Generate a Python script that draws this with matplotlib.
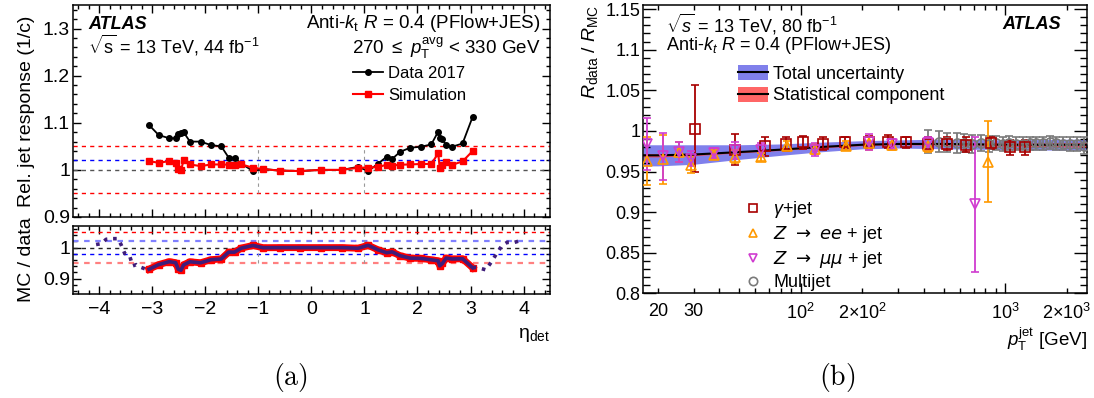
import numpy as np
import matplotlib
matplotlib.use("Agg")
import matplotlib.pyplot as plt
from matplotlib.lines import Line2D
from matplotlib.patches import Patch
from matplotlib.ticker import MultipleLocator, FixedLocator, FuncFormatter, NullFormatter

plt.rcParams['font.family'] = ['Liberation Sans', 'DejaVu Sans']
plt.rcParams['mathtext.fontset'] = 'custom'
plt.rcParams['mathtext.rm'] = 'Liberation Sans'
plt.rcParams['mathtext.it'] = 'Liberation Sans:italic'
plt.rcParams['mathtext.bf'] = 'Liberation Sans:bold'
plt.rcParams['mathtext.sf'] = 'Liberation Sans'
plt.rcParams['axes.unicode_minus'] = True

# ---------------- (a) eta intercalibration, 270 <= pT avg < 330 GeV ----------------
eta = [-3.06, -2.88, -2.68, -2.56, -2.51, -2.46, -2.41, -2.29, -2.09, -1.89, -1.70,
       -1.56, -1.45, -1.32, -1.10, -0.91, -0.60, -0.21, 0.18, 0.58, 0.88, 1.07,
       1.26, 1.42, 1.52, 1.67, 1.86, 2.06, 2.26, 2.39, 2.42, 2.47, 2.54, 2.65,
       2.85, 3.04]
resp_data = [1.095, 1.074, 1.067, 1.067, 1.076, 1.078, 1.080, 1.060, 1.060, 1.0525,
             1.050, 1.026, 1.026, 1.013, 0.9975, 1.002, 0.9985, 0.9975, 1.000, 1.000,
             1.0065, 0.9975, 1.0135, 1.028, 1.023, 1.038, 1.047, 1.049, 1.054, 1.081,
             1.068, 1.065, 1.0525, 1.049, 1.056, 1.1125]
resp_sim = [1.0186, 1.015, 1.0186, 1.015, 1.001, 0.999, 1.020, 1.0115, 1.008, 1.0115,
            1.0115, 1.011, 1.011, 1.0115, 1.0045, 1.0017, 0.9985, 0.9975, 1.000, 1.000,
            1.0045, 1.005, 1.006, 1.011, 1.009, 1.011, 1.0115, 1.0125, 1.0125, 1.035,
            1.005, 1.0105, 1.017, 1.0105, 1.018, 1.040]

# forward extension of the calibration curve
eta_fwd_neg = [-4.06, -3.96, -3.87, -3.74, -3.65, -3.59, -3.52, -3.43, -3.37, -3.30,
               -3.24, -3.10, -3.06]
calib_fwd_neg = [1.010, 1.013, 1.027, 1.029, 1.029, 1.010, 0.981, 0.975, 0.941, 0.945,
                 0.938, 0.929, 0.929]
eta_fwd_pos = [3.04, 3.09, 3.19, 3.29, 3.39, 3.49, 3.59, 3.69, 3.83, 4.00]
calib_fwd_pos = [0.935, 0.936, 0.933, 0.928, 0.953, 0.980, 1.006, 1.017, 1.017, 1.026]

# ---------------- (b) combined in-situ calibration ----------------
pt_curve = [17, 20, 30, 50, 80, 120, 200, 300, 500, 1000, 2500]
resp_curve = [0.970, 0.970, 0.971, 0.974, 0.977, 0.980, 0.983, 0.984, 0.984, 0.983, 0.983]
unc_total = [0.013, 0.013, 0.012, 0.009, 0.007, 0.006, 0.005, 0.005, 0.006, 0.006, 0.007]
unc_stat = [0.002, 0.002, 0.0015, 0.001, 0.001, 0.001, 0.001, 0.001, 0.0015, 0.002, 0.003]

pt_gjet = [30.3, 48, 67, 85, 103, 128, 165, 215, 266, 326, 419, 520, 641, 850, 1055, 1251]
val_gjet = [1.003, 0.977, 0.981, 0.984, 0.986, 0.984, 0.986, 0.986, 0.987, 0.986, 0.984,
            0.984, 0.983, 0.985, 0.980, 0.980]
err_gjet = [0.053, 0.019, 0.012, 0.009, 0.008, 0.008, 0.007, 0.008, 0.008, 0.007, 0.009,
            0.008, 0.009, 0.007, 0.009, 0.009]

pt_zee = [17.8, 21.2, 25.5, 29.1, 37.7, 47.5, 64, 86, 117, 167, 215, 280, 419, 823]
val_zee = [0.963, 0.965, 0.974, 0.958, 0.971, 0.968, 0.968, 0.982, 0.978, 0.982, 0.985,
           0.983, 0.982, 0.962]
err_zee = [0.030, 0.030, 0.012, 0.010, 0.006, 0.008, 0.005, 0.006, 0.006, 0.006, 0.008,
           0.007, 0.008, 0.050]

pt_zmm = [17.8, 21.2, 25.5, 29.1, 37.7, 47.5, 64, 117, 215, 280, 419, 708]
val_zmm = [0.984, 0.969, 0.974, 0.966, 0.973, 0.976, 0.977, 0.977, 0.986, 0.984, 0.985, 0.910]
err_zmm = [0.032, 0.029, 0.012, 0.009, 0.006, 0.010, 0.008, 0.008, 0.010, 0.006, 0.008, 0.083]

pt_mj = [419, 473, 520, 583, 629, 691, 759, 835, 900, 971, 1048, 1129, 1218, 1315, 1417,
         1529, 1650, 1778, 1918, 2069, 2230, 2434]
val_mj = [0.987, 0.987, 0.986, 0.985, 0.985, 0.984, 0.985, 0.984, 0.985, 0.984, 0.985,
          0.984, 0.984, 0.985, 0.985, 0.985, 0.986, 0.985, 0.984, 0.984, 0.984, 0.982]
err_mj = [0.014, 0.013, 0.012, 0.012, 0.011, 0.011, 0.010, 0.010, 0.009, 0.009, 0.009,
          0.008, 0.008, 0.008, 0.008, 0.008, 0.008, 0.008, 0.008, 0.009, 0.009, 0.010]

xticks_r_major = [100, 1000]
xticks_r_minor_labels = {20: '20', 30: '30', 200: r'$2{\times}10^{2}$', 2000: r'$2{\times}10^{3}$'}


def fmt_num(v, pos):
    return f'{round(v, 4):g}'.replace('-', '\u2212')


def frame(ax, maj, mnr, labelsize):
    ax.tick_params(which='both', direction='in', top=True, right=True, width=1.0,
                   labelsize=labelsize)
    ax.tick_params(which='major', length=maj)
    ax.tick_params(which='minor', length=mnr)
    for s in ax.spines.values():
        s.set_linewidth(1.1)


fig = plt.figure(figsize=(10.94, 3.98), dpi=100)
ax_top = fig.add_axes([0.0665, 0.4548, 0.4363, 0.5327])
ax_bot = fig.add_axes([0.0665, 0.2613, 0.4363, 0.1709])
ax_r = fig.add_axes([0.5880, 0.2626, 0.4053, 0.7249])

DASH = (0, (3, 3))

# ---- upper left: relative response ----
ax_top.axhline(1.05, color='#ff0000', ls=DASH, lw=1.0)
ax_top.axhline(1.02, color='#0000ff', ls=DASH, lw=1.0)
ax_top.axhline(1.00, color='#555555', ls=DASH, lw=1.0)
ax_top.axhline(0.95, color='#ff0000', ls=DASH, lw=1.0)
ax_top.vlines([-1, 1], 0.95, 1.05, colors='#999999', linestyles=DASH, lw=0.8)
ax_top.plot(eta, resp_data, '-o', color='black', ms=4, lw=1.3, label='Data 2017')
ax_top.plot(eta, resp_sim, '-s', color='#ff0000', ms=4.5, lw=1.5, label='Simulation')
ax_top.set_xlim(-4.5, 4.5)
ax_top.set_ylim(0.9, 1.35)
ax_top.xaxis.set_major_locator(MultipleLocator(1))
ax_top.xaxis.set_minor_locator(MultipleLocator(0.2))
ax_top.yaxis.set_major_locator(MultipleLocator(0.1))
ax_top.yaxis.set_minor_locator(MultipleLocator(0.02))
ax_top.yaxis.set_major_formatter(FuncFormatter(fmt_num))
ax_top.xaxis.set_major_formatter(NullFormatter())
frame(ax_top, 6, 3, 14)
ax_top.tick_params(axis='y', pad=2)
ax_top.set_ylabel('Rel. jet response (1/c)', fontsize=14, labelpad=6)

ax_top.text(0.033, 0.885, 'ATLAS', transform=ax_top.transAxes, fontsize=13,
            fontweight='bold', fontstyle='italic', ha='left', va='baseline')
ax_top.text(0.031, 0.769, r'$\sqrt{\mathrm{s}}$ = 13 TeV, 44 fb$^{\mathrm{-1}}$',
            transform=ax_top.transAxes, fontsize=13, ha='left', va='baseline')
ax_top.text(0.979, 0.890, r'Anti-$k_{\mathrm{t}}$ $R$ = 0.4 (PFlow+JES)',
            transform=ax_top.transAxes, fontsize=13.5, ha='right', va='baseline')
ax_top.text(0.979, 0.769, r'270 $\leq$ $p_{\mathrm{T}}^{\mathrm{avg}}$ < 330 GeV',
            transform=ax_top.transAxes, fontsize=13.5, ha='right', va='baseline')
ax_top.legend(loc='upper left', bbox_to_anchor=(0.588, 0.714), frameon=False,
              fontsize=12, handlelength=1.8, handletextpad=0.3, labelspacing=0.45,
              borderpad=0, borderaxespad=0)

# ---- lower left: MC / data ----
ratio = np.array(resp_sim) / np.array(resp_data)
ax_bot.axhline(1.05, color='#ff0000', ls=DASH, lw=1.0)
ax_bot.axhline(1.02, color='#8080ff', ls=(0, (2.5, 2.5)), lw=1.6)
ax_bot.axhline(1.00, color='#222222', ls=DASH, lw=1.0)
ax_bot.axhline(0.98, color='#0000ff', ls=DASH, lw=1.0)
ax_bot.axhline(0.95, color='#ff8080', ls=(0, (2.5, 2.5)), lw=1.6)
ax_bot.vlines([-1, 1], 0.95, 1.07, colors='#999999', linestyles=DASH, lw=0.8)
ax_bot.plot(eta, ratio, '-s', color='#ff0000', lw=5, ms=5)
ax_bot.plot(eta, ratio, '-', color='#3f1d7a', lw=2.6)
ax_bot.plot(eta_fwd_neg, calib_fwd_neg, ls=(0, (1, 1.6)), color='#3f1d7a', lw=2.6)
ax_bot.plot(eta_fwd_pos, calib_fwd_pos, ls=(0, (1, 1.6)), color='#3f1d7a', lw=2.6)
ax_bot.set_xlim(-4.5, 4.5)
ax_bot.set_ylim(0.85, 1.07)
ax_bot.xaxis.set_major_locator(MultipleLocator(1))
ax_bot.xaxis.set_minor_locator(MultipleLocator(0.2))
ax_bot.yaxis.set_major_locator(MultipleLocator(0.1))
ax_bot.yaxis.set_minor_locator(MultipleLocator(0.02))
ax_bot.yaxis.set_major_formatter(FuncFormatter(fmt_num))
ax_bot.xaxis.set_major_formatter(FuncFormatter(fmt_num))
frame(ax_bot, 6, 3, 14)
ax_bot.tick_params(axis='y', pad=2)
ax_bot.tick_params(axis='x', pad=5)
ax_bot.set_ylabel('MC / data', fontsize=14, labelpad=6)
ax_bot.set_xlabel('\u03b7$_{\\mathrm{det}}$', fontsize=14, loc='right', labelpad=6)

# ---- right: data / MC response ----
pc = np.array(pt_curve)
rc = np.array(resp_curve)
tot = np.array(unc_total)
st = np.array(unc_stat)
BLUE = '#6a6ae8'
RED = '#ff4040'
ax_r.fill_between(pc, rc - tot, rc + tot, color=BLUE, alpha=0.85, lw=0, zorder=1)
ax_r.fill_between(pc, rc - st, rc + st, color=RED, alpha=0.8, lw=0, zorder=2)
ax_r.plot(pc, rc, color='black', lw=1.5, zorder=3)

LAB_G = r'$\gamma$+jet'
LAB_EE = r'$Z\ \rightarrow\ ee$ + jet'
LAB_MM = r'$Z\ \rightarrow\ \mu\mu$ + jet'
series = [
    (pt_mj, val_mj, err_mj, 'o', '#7a7a7a', 'Multijet'),
    (pt_gjet, val_gjet, err_gjet, 's', '#a80000', LAB_G),
    (pt_zee, val_zee, err_zee, '^', '#ff9900', LAB_EE),
    (pt_zmm, val_zmm, err_zmm, 'v', '#d03cd0', LAB_MM),
]
handles = {}
for x, y, e, m, c, lab in series:
    ax_r.errorbar(x, y, yerr=e, fmt=m, color=c, mfc='none', mec=c, ms=6.5,
                  mew=1.2, elinewidth=1.3, capsize=3, capthick=1.3, zorder=4)
    handles[lab] = Line2D([], [], ls='none', marker=m, mfc='none', mec=c, ms=6, mew=1.2)

ax_r.set_xscale('log')
ax_r.set_xlim(17, 2500)
ax_r.set_ylim(0.8, 1.155)
ax_r.yaxis.set_major_locator(MultipleLocator(0.05))
ax_r.yaxis.set_minor_locator(MultipleLocator(0.01))
ax_r.yaxis.set_major_formatter(FuncFormatter(fmt_num))
minor_x = [v * d for d in (10, 100, 1000) for v in range(2, 10) if 17 <= v * d <= 2500]
ax_r.xaxis.set_major_locator(FixedLocator(xticks_r_major))
ax_r.xaxis.set_minor_locator(FixedLocator(minor_x))
ax_r.xaxis.set_major_formatter(FuncFormatter(
    lambda v, p: r'$10^{%d}$' % round(np.log10(v))))
ax_r.xaxis.set_minor_formatter(FuncFormatter(
    lambda v, p: xticks_r_minor_labels.get(int(round(v)), '')))
ax_r.tick_params(which='both', direction='in', top=True, right=True, width=1.0,
                 labelsize=13)
ax_r.tick_params(axis='y', which='major', length=9.5, pad=2)
ax_r.tick_params(axis='y', which='minor', length=5)
ax_r.tick_params(axis='x', which='major', length=7, pad=7)
ax_r.tick_params(axis='x', which='minor', length=3.8, pad=7)
for s in ax_r.spines.values():
    s.set_linewidth(1.1)
ax_r.set_ylabel(r'$R_{\mathrm{data}}$ / $R_{\mathrm{MC}}$', fontsize=14, loc='top',
                labelpad=4)
ax_r.set_xlabel(r'$p_{\mathrm{T}}^{\mathrm{jet}}$ [GeV]', fontsize=13.5, loc='right',
                labelpad=2)

ax_r.text(0.051, 0.903, r'$\sqrt{s}$ = 13 TeV, 80 fb$^{\mathrm{-1}}$',
          transform=ax_r.transAxes, fontsize=13, ha='left', va='baseline')
ax_r.text(0.051, 0.844, r'Anti-$k_{t}$ $R$ = 0.4 (PFlow+JES)',
          transform=ax_r.transAxes, fontsize=13, ha='left', va='baseline')
ax_r.text(0.941, 0.916, 'ATLAS', transform=ax_r.transAxes, fontsize=13,
          fontweight='bold', fontstyle='italic', ha='right', va='baseline')

band_handles = [
    (Patch(facecolor=BLUE, alpha=0.85, lw=0), Line2D([], [], color='black', lw=1.5)),
    (Patch(facecolor=RED, alpha=0.8, lw=0), Line2D([], [], color='black', lw=1.5)),
]
leg1 = ax_r.legend(band_handles, ['Total uncertainty', 'Statistical component'],
                   loc='upper left', bbox_to_anchor=(0.2136, 0.792), frameon=False,
                   fontsize=13, handlelength=1.67, handleheight=0.9,
                   handletextpad=0.28, labelspacing=0.22, borderpad=0,
                   borderaxespad=0)
ax_r.add_artist(leg1)
order = [LAB_G, LAB_EE, LAB_MM, 'Multijet']
leg2 = ax_r.legend([handles[k] for k in order], order, loc='upper left',
                   bbox_to_anchor=(0.2264, 0.3276), frameon=False, fontsize=13,
                   handlelength=1.0, handletextpad=0.63, labelspacing=0.22,
                   borderpad=0, borderaxespad=0)
for t in leg2.get_texts()[1:3]:
    t.set_math_fontfamily('dejavusans')

fig.text(290 / 1094, 1 - 378 / 398, r'$\mathrm{(a)}$', math_fontfamily='cm',
         fontsize=20, ha='center', va='center')
fig.text(837 / 1094, 1 - 378 / 398, r'$\mathrm{(b)}$', math_fontfamily='cm',
         fontsize=20, ha='center', va='center')

fig.savefig('out.png', dpi=100)
